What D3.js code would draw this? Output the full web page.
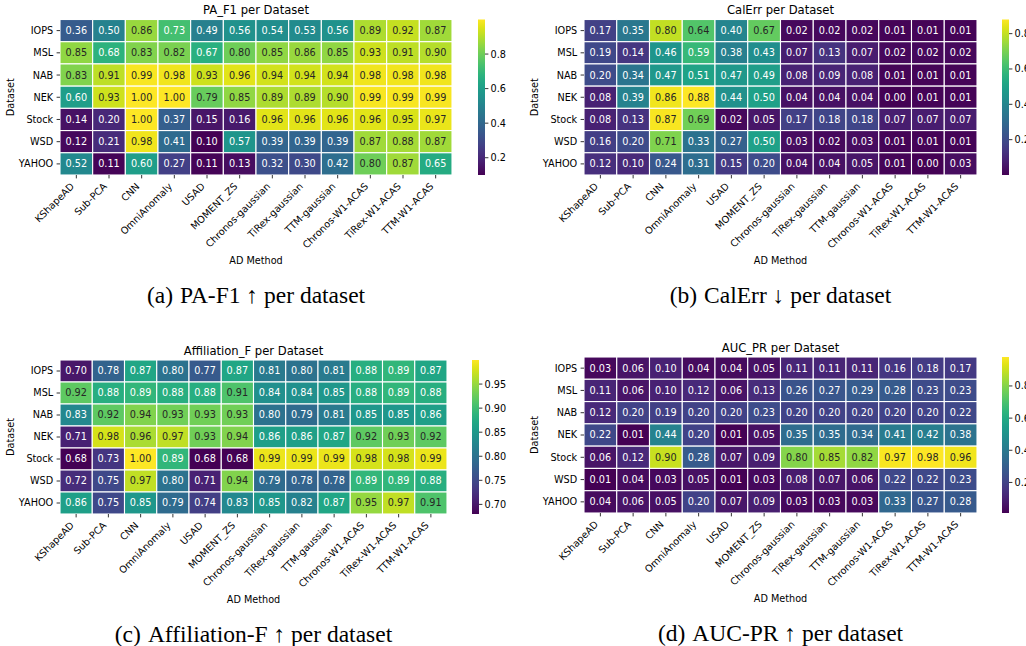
<!DOCTYPE html>
<html>
<head>
<meta charset="UTF-8">
<style>
  body { margin: 0; background: white; }
  svg { display: block; font-family: "DejaVu Sans", sans-serif; }
  .caption { font-family: "Liberation Serif", "Times New Roman", serif; font-size: 23.5px; }
</style>
</head>
<body>
<svg id="chart" width="1026" height="646"></svg>
<script src="https://d3js.org/d3.v7.min.js"></script>
<script>

const methods = ["KShapeAD", "Sub-PCA", "CNN", "OmniAnomaly", "USAD", "MOMENT_ZS",
  "Chronos-gaussian", "TiRex-gaussian", "TTM-gaussian", "Chronos-W1-ACAS", "TiRex-W1-ACAS", "TTM-W1-ACAS"];
const datasets = ["IOPS", "MSL", "NAB", "NEK", "Stock", "WSD", "YAHOO"];

// one row per dataset, one column per method
const paF1 = [
  [0.36, 0.50, 0.86, 0.73, 0.49, 0.56, 0.54, 0.53, 0.56, 0.89, 0.92, 0.87],
  [0.85, 0.68, 0.83, 0.82, 0.67, 0.80, 0.85, 0.86, 0.85, 0.93, 0.91, 0.90],
  [0.83, 0.91, 0.99, 0.98, 0.93, 0.96, 0.94, 0.94, 0.94, 0.98, 0.98, 0.98],
  [0.60, 0.93, 1.00, 1.00, 0.79, 0.85, 0.89, 0.89, 0.90, 0.99, 0.99, 0.99],
  [0.14, 0.20, 1.00, 0.37, 0.15, 0.16, 0.96, 0.96, 0.96, 0.96, 0.95, 0.97],
  [0.12, 0.21, 0.98, 0.41, 0.10, 0.57, 0.39, 0.39, 0.39, 0.87, 0.88, 0.87],
  [0.52, 0.11, 0.60, 0.27, 0.11, 0.13, 0.32, 0.30, 0.42, 0.80, 0.87, 0.65]
];
const calErr = [
  [0.17, 0.35, 0.80, 0.64, 0.40, 0.67, 0.02, 0.02, 0.02, 0.01, 0.01, 0.01],
  [0.19, 0.14, 0.46, 0.59, 0.38, 0.43, 0.07, 0.13, 0.07, 0.02, 0.02, 0.02],
  [0.20, 0.34, 0.47, 0.51, 0.47, 0.49, 0.08, 0.09, 0.08, 0.01, 0.01, 0.01],
  [0.08, 0.39, 0.86, 0.88, 0.44, 0.50, 0.04, 0.04, 0.04, 0.00, 0.01, 0.01],
  [0.08, 0.13, 0.87, 0.69, 0.02, 0.05, 0.17, 0.18, 0.18, 0.07, 0.07, 0.07],
  [0.16, 0.20, 0.71, 0.33, 0.27, 0.50, 0.03, 0.02, 0.03, 0.01, 0.01, 0.01],
  [0.12, 0.10, 0.24, 0.31, 0.15, 0.20, 0.04, 0.04, 0.05, 0.01, 0.00, 0.03]
];
const affF = [
  [0.70, 0.78, 0.87, 0.80, 0.77, 0.87, 0.81, 0.80, 0.81, 0.88, 0.89, 0.87],
  [0.92, 0.88, 0.89, 0.88, 0.88, 0.91, 0.84, 0.84, 0.85, 0.88, 0.89, 0.88],
  [0.83, 0.92, 0.94, 0.93, 0.93, 0.93, 0.80, 0.79, 0.81, 0.85, 0.85, 0.86],
  [0.71, 0.98, 0.96, 0.97, 0.93, 0.94, 0.86, 0.86, 0.87, 0.92, 0.93, 0.92],
  [0.68, 0.73, 1.00, 0.89, 0.68, 0.68, 0.99, 0.99, 0.99, 0.98, 0.98, 0.99],
  [0.72, 0.75, 0.97, 0.80, 0.71, 0.94, 0.79, 0.78, 0.78, 0.89, 0.89, 0.88],
  [0.86, 0.75, 0.85, 0.79, 0.74, 0.83, 0.85, 0.82, 0.87, 0.95, 0.97, 0.91]
];
const aucPR = [
  [0.03, 0.06, 0.10, 0.04, 0.04, 0.05, 0.11, 0.11, 0.11, 0.16, 0.18, 0.17],
  [0.11, 0.06, 0.10, 0.12, 0.06, 0.13, 0.26, 0.27, 0.29, 0.28, 0.23, 0.23],
  [0.12, 0.20, 0.19, 0.20, 0.20, 0.23, 0.20, 0.20, 0.20, 0.20, 0.20, 0.22],
  [0.22, 0.01, 0.44, 0.20, 0.01, 0.05, 0.35, 0.35, 0.34, 0.41, 0.42, 0.38],
  [0.06, 0.12, 0.90, 0.28, 0.07, 0.09, 0.80, 0.85, 0.82, 0.97, 0.98, 0.96],
  [0.01, 0.04, 0.03, 0.05, 0.01, 0.03, 0.08, 0.07, 0.06, 0.22, 0.22, 0.23],
  [0.04, 0.06, 0.05, 0.20, 0.07, 0.09, 0.03, 0.03, 0.03, 0.33, 0.27, 0.28]
];

// colorbar tick labels
const ticksPA = [0.2, 0.4, 0.6, 0.8];
const ticksCal = [0.2, 0.4, 0.6, 0.8];
const ticksAff = [0.70, 0.75, 0.80, 0.85, 0.90, 0.95];
const ticksAUC = [0.2, 0.4, 0.6, 0.8];

const panels = [
  { id: "a", values: paF1, ticks: ticksPA, fmt: ".1f", title: "PA_F1 per Dataset", caption: "PA-F1 \u2191 per dataset",
    x0: 60, x1: 452, y0: 19.5, y1: 175, cbX: 478 },
  { id: "b", values: calErr, ticks: ticksCal, fmt: ".1f", title: "CalErr per Dataset", caption: "CalErr \u2193 per dataset",
    x0: 584, x1: 977, y0: 19.5, y1: 175, cbX: 1002 },
  { id: "c", values: affF, ticks: ticksAff, fmt: ".2f", title: "Affiliation_F per Dataset", caption: "Affiliation-F \u2191 per dataset",
    x0: 60, x1: 447, y0: 360, y1: 514, cbX: 472 },
  { id: "d", values: aucPR, ticks: ticksAUC, fmt: ".1f", title: "AUC_PR per Dataset", caption: "AUC-PR \u2191 per dataset",
    x0: 584, x1: 977, y0: 357, y1: 513, cbX: 1002 }
];

const svg = d3.select("#chart");
const defs = svg.append("defs");
const FS = 9.7;

function luminance(c) {
  const rgb = d3.rgb(c);
  const f = v => { v /= 255; return v <= 0.03928 ? v / 12.92 : Math.pow((v + 0.055) / 1.055, 2.4); };
  return 0.2126 * f(rgb.r) + 0.7152 * f(rgb.g) + 0.0722 * f(rgb.b);
}

panels.forEach(p => {
  let g = svg.append("g");
  let x = d3.scaleBand().domain(methods).range([p.x0, p.x1]);
  let y = d3.scaleBand().domain(datasets).range([p.y0, p.y1]);
  let ext = d3.extent(p.values.flat());
  let color = d3.scaleSequential(d3.interpolateViridis).domain(ext);

  let cells = [];
  p.values.forEach((row, i) => row.forEach((v, j) => cells.push({ ds: datasets[i], m: methods[j], v: v })));

  g.selectAll("rect.cell")
    .data(cells)
    .enter()
    .append("rect")
    .attr("class", "cell")
    .attr("x", d => x(d.m))
    .attr("y", d => y(d.ds))
    .attr("width", x.bandwidth())
    .attr("height", y.bandwidth())
    .attr("fill", d => color(d.v))
    .attr("stroke", "white")
    .attr("stroke-width", 1.1);

  g.selectAll("text.annot")
    .data(cells)
    .enter()
    .append("text")
    .attr("x", d => x(d.m) + x.bandwidth() / 2)
    .attr("y", d => y(d.ds) + y.bandwidth() / 2)
    .attr("dy", "0.36em")
    .attr("text-anchor", "middle")
    .attr("font-size", FS)
    .attr("fill", d => luminance(color(d.v)) > 0.408 ? "#262626" : "white")
    .text(d => d3.format(".2f")(d.v));

  // y axis
  datasets.forEach(ds => {
    let cy = y(ds) + y.bandwidth() / 2;
    g.append("line").attr("x1", p.x0 - 3.4).attr("x2", p.x0).attr("y1", cy).attr("y2", cy)
      .attr("stroke", "#000").attr("stroke-width", 0.8);
    g.append("text").attr("x", p.x0 - 6.8).attr("y", cy).attr("dy", "0.36em")
      .attr("text-anchor", "end").attr("font-size", FS).text(ds);
  });

  // x axis
  methods.forEach(m => {
    let cx = x(m) + x.bandwidth() / 2;
    g.append("line").attr("x1", cx).attr("x2", cx).attr("y1", p.y1).attr("y2", p.y1 + 3.4)
      .attr("stroke", "#000").attr("stroke-width", 0.8);
    g.append("text")
      .attr("transform", `translate(${cx - 1.5},${p.y1 + 12}) rotate(-45)`)
      .attr("text-anchor", "end").attr("font-size", FS).text(m);
  });

  let midX = (p.x0 + p.x1) / 2;
  g.append("text").attr("x", midX).attr("y", p.y0 - 9.5).attr("dy", "0.36em")
    .attr("text-anchor", "middle").attr("font-size", 11.6).text(p.title);
  g.append("text").attr("x", midX).attr("y", p.y1 + 86).attr("dy", "0.36em")
    .attr("text-anchor", "middle").attr("font-size", FS).text("AD Method");
  g.append("text")
    .attr("transform", `translate(${p.x0 - 50},${(p.y0 + p.y1) / 2}) rotate(-90)`)
    .attr("dy", "0.36em").attr("text-anchor", "middle").attr("font-size", FS).text("Dataset");

  let cap = g.append("text").attr("class", "caption")
    .attr("x", midX).attr("y", p.y1 + 120).attr("dy", "0.33em").attr("text-anchor", "middle");
  cap.append("tspan").text("(" + p.id + ")");
  cap.append("tspan").attr("dx", 7).text(p.caption);

  // colorbar
  let grad = defs.append("linearGradient").attr("id", "grad-" + p.id)
    .attr("x1", 0).attr("y1", 1).attr("x2", 0).attr("y2", 0);
  d3.range(0, 1.0001, 0.05).forEach(t => {
    grad.append("stop").attr("offset", t).attr("stop-color", d3.interpolateViridis(t));
  });
  let cbW = 7;
  g.append("rect").attr("x", p.cbX).attr("y", p.y0).attr("width", cbW).attr("height", p.y1 - p.y0)
    .attr("fill", `url(#grad-${p.id})`);
  let cb = d3.scaleLinear().domain(ext).range([p.y1, p.y0]);
  p.ticks.forEach(t => {
    g.append("line").attr("x1", p.cbX + cbW).attr("x2", p.cbX + cbW + 3.4)
      .attr("y1", cb(t)).attr("y2", cb(t)).attr("stroke", "#000").attr("stroke-width", 0.8);
    g.append("text").attr("x", p.cbX + cbW + 5.5).attr("y", cb(t)).attr("dy", "0.36em")
      .attr("font-size", FS).text(d3.format(p.fmt)(t));
  });
});

</script>
</body>
</html>
